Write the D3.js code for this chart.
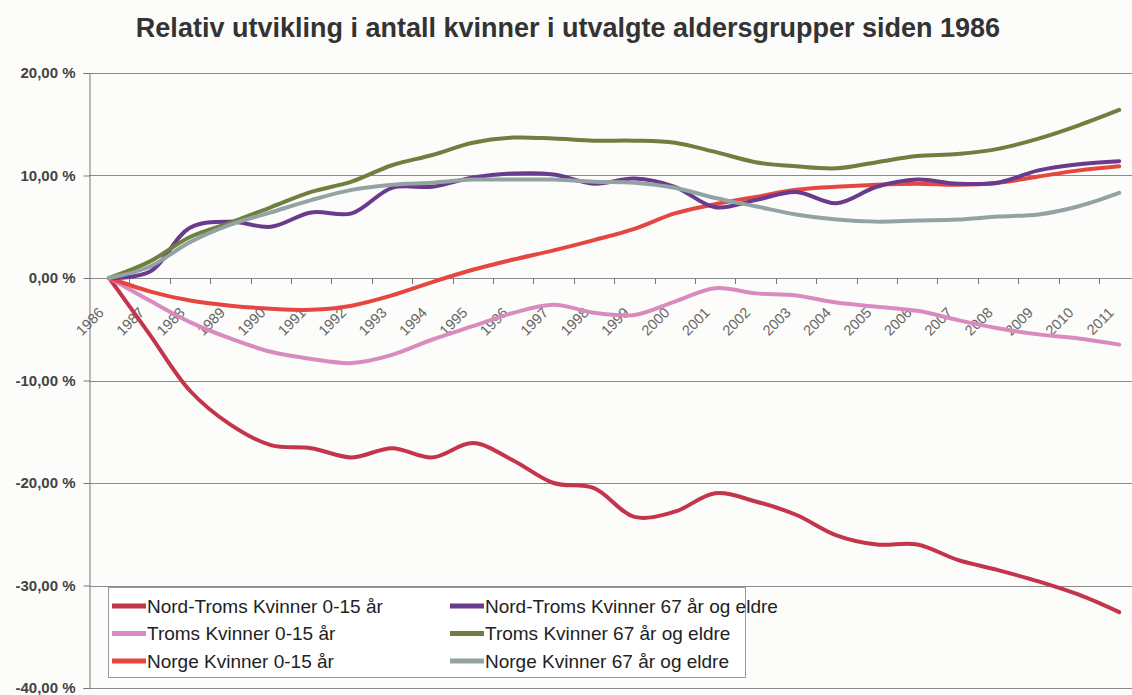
<!DOCTYPE html>
<html>
<head>
<meta charset="utf-8">
<script src="https://cdn.jsdelivr.net/npm/d3@7"></script>
<style>
  body { margin: 0; background: #fcfcfa; }
  svg { display: block; font-family: "Liberation Sans", Arial, sans-serif; }
</style>
</head>
<body>
<svg id="chart"></svg>
<script>
// Kategorier (år)
var years = [1986, 1987, 1988, 1989, 1990, 1991, 1992, 1993, 1994, 1995, 1996, 1997, 1998,
  1999, 2000, 2001, 2002, 2003, 2004, 2005, 2006, 2007, 2008, 2009, 2010, 2011];

// Relativ endring i prosent siden 1986
var nordTroms015 = [0, -5.5, -11.0, -14.3, -16.3, -16.6, -17.5, -16.6, -17.5, -16.1, -17.8, -20.0, -20.5,
  -23.3, -22.8, -21.0, -21.8, -23.1, -25.1, -26.0, -26.0, -27.5, -28.5, -29.6, -30.9, -32.6];
var troms015 = [0, -2.2, -4.3, -5.9, -7.2, -7.9, -8.3, -7.5, -6.0, -4.7, -3.4, -2.6, -3.4,
  -3.6, -2.3, -1.0, -1.5, -1.7, -2.4, -2.8, -3.2, -4.1, -4.9, -5.5, -5.9, -6.5];
var norge015 = [0, -1.3, -2.2, -2.7, -3.0, -3.1, -2.7, -1.7, -0.4, 0.8, 1.8, 2.7, 3.7,
  4.8, 6.3, 7.2, 7.9, 8.6, 8.9, 9.1, 9.2, 9.1, 9.3, 9.9, 10.5, 10.9];
var nordTroms67 = [0, 0.6, 4.9, 5.5, 5.0, 6.4, 6.3, 8.8, 8.9, 9.8, 10.2, 10.1, 9.2,
  9.7, 8.9, 6.9, 7.6, 8.4, 7.3, 8.9, 9.6, 9.2, 9.3, 10.5, 11.1, 11.4];
var troms67 = [0, 1.6, 4.0, 5.4, 6.9, 8.4, 9.4, 11.0, 12.0, 13.2, 13.7, 13.6, 13.4,
  13.4, 13.2, 12.3, 11.3, 10.9, 10.7, 11.3, 11.9, 12.1, 12.6, 13.6, 14.9, 16.4];
var norge67 = [0, 1.1, 3.5, 5.2, 6.4, 7.6, 8.6, 9.1, 9.3, 9.6, 9.6, 9.6, 9.4,
  9.3, 8.8, 7.8, 7.0, 6.2, 5.7, 5.5, 5.6, 5.7, 6.0, 6.2, 7.0, 8.3];

var seriesNames = ['Nord-Troms Kvinner 0-15 år', 'Troms Kvinner 0-15 år', 'Norge Kvinner 0-15 år',
  'Nord-Troms Kvinner 67 år og eldre', 'Troms Kvinner 67 år og eldre', 'Norge Kvinner 67 år og eldre'];
var seriesValues = [nordTroms015, troms015, norge015, nordTroms67, troms67, norge67];
var seriesColors = ['#c3354a', '#d98bc0', '#e5463f', '#6a3b8c', '#6e7f3e', '#93a3a3'];

var yTicks = [20, 10, 0, -10, -20, -30, -40];

var width = 1132, height = 695;

var svg = d3.select('#chart')
  .attr('width', width)
  .attr('height', height);

// Skalaer
var x = d3.scaleBand()
  .domain(years)
  .range([89, 89 + 26 * 40.4]);

var y = d3.scaleLinear()
  .domain([-40, 20])
  .range([688, 73]);

function cx(d) { return x(d) + x.bandwidth() / 2; }

// Tittel
svg.append('text')
  .attr('x', 568)
  .attr('y', 37)
  .attr('text-anchor', 'middle')
  .attr('font-weight', 'bold')
  .attr('font-size', 27)
  .attr('fill', '#333')
  .text('Relativ utvikling i antall kvinner i utvalgte aldersgrupper siden 1986');

// Rutenett
svg.append('g')
  .selectAll('line')
  .data(yTicks)
  .join('line')
  .attr('x1', 89)
  .attr('x2', width)
  .attr('y1', function(d) { return Math.round(y(d)) + 0.5; })
  .attr('y2', function(d) { return Math.round(y(d)) + 0.5; })
  .attr('stroke', '#8a8a8a')
  .attr('stroke-width', 1.2);

// Y-akse
var locale = d3.formatLocale({ decimal: ',', thousands: ' ', grouping: [3], currency: ['', ' kr'], minus: '-' });
var fmt = locale.format('.2f');

var yAxis = svg.append('g')
  .attr('transform', 'translate(89.5,0)')
  .call(d3.axisLeft(y)
    .tickValues(yTicks)
    .tickSize(6)
    .tickPadding(8)
    .tickFormat(function(d) { return fmt(d) + ' %'; }));

yAxis.select('.domain').attr('stroke', '#777');
yAxis.selectAll('.tick line').attr('stroke', '#777');
yAxis.selectAll('text')
  .attr('font-family', '"Liberation Sans", Arial, sans-serif')
  .attr('font-size', 15)
  .attr('font-weight', 'bold')
  .attr('fill', '#444');

// X-akse med etiketter
var xAxis = svg.append('g')
  .attr('transform', 'translate(0,' + y(0) + ')')
  .call(d3.axisBottom(x).tickSize(0));

xAxis.select('.domain').remove();
xAxis.selectAll('text')
  .attr('font-family', '"Liberation Sans", Arial, sans-serif')
  .attr('font-size', 14.5)
  .attr('fill', '#666')
  .attr('text-anchor', 'end')
  .attr('x', 0)
  .attr('y', 0)
  .attr('dy', '0.35em')
  .attr('transform', 'translate(-8,32) rotate(-45)');

// Tikk mellom kategoriene
svg.append('g')
  .selectAll('line')
  .data(years.slice(1))
  .join('line')
  .attr('x1', function(d) { return Math.round(x(d)) + 0.5; })
  .attr('x2', function(d) { return Math.round(x(d)) + 0.5; })
  .attr('y1', y(0))
  .attr('y2', y(0) + 6)
  .attr('stroke', '#777');

// Linjer
var line = d3.line()
  .x(function(d, i) { return cx(years[i]); })
  .y(function(d) { return y(d); })
  .curve(d3.curveCatmullRom.alpha(0.5));

svg.append('g')
  .selectAll('path')
  .data(seriesValues)
  .join('path')
  .attr('d', line)
  .attr('fill', 'none')
  .attr('stroke', function(d, i) { return seriesColors[i]; })
  .attr('stroke-width', 4)
  .attr('stroke-linejoin', 'round')
  .attr('stroke-linecap', 'round');

// Tegnforklaring
var legend = svg.append('g');

legend.append('rect')
  .attr('x', 108.5)
  .attr('y', 587.5)
  .attr('width', 637)
  .attr('height', 90)
  .attr('fill', '#fff')
  .attr('stroke', '#999');

var legendItems = legend.selectAll('g')
  .data(seriesNames)
  .join('g')
  .attr('transform', function(d, i) {
    var col = Math.floor(i / 3), row = i % 3;
    return 'translate(' + (112 + col * 338) + ',' + (606 + row * 27.5) + ')';
  });

legendItems.append('line')
  .attr('x1', 0)
  .attr('x2', 34)
  .attr('stroke', function(d, i) { return seriesColors[i]; })
  .attr('stroke-width', 5);

legendItems.append('text')
  .attr('x', 35)
  .attr('dy', '0.36em')
  .attr('font-size', 19)
  .attr('fill', '#222')
  .text(function(d) { return d; });
</script>
</body>
</html>
